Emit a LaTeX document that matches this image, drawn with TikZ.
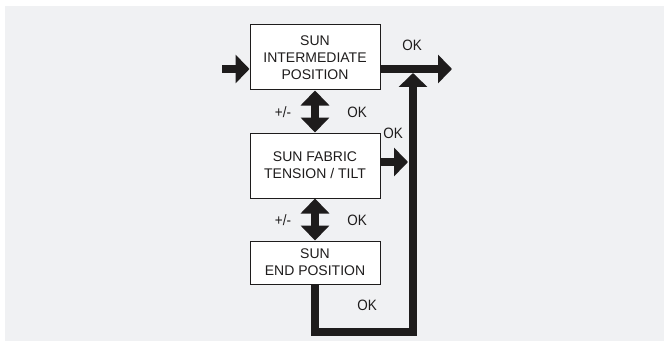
\documentclass[tikz,border=0pt]{standalone}
\usepackage{fontspec}
\setmainfont{Liberation Sans}
\newfontfamily\tagfont[FakeStretch=0.9]{Liberation Sans}
\usetikzlibrary{arrows.meta}
\definecolor{bggray}{HTML}{F0F1F3}
\definecolor{ink}{HTML}{1E1C1C}
\begin{document}
\begin{tikzpicture}[x=1pt, y=-1pt,
	box/.style={shape=rectangle, draw=ink, line width=1pt, fill=white, text=ink, inner sep=0pt,
		minimum width=130pt, align=center, font=\fontsize{14}{17}\selectfont},
	flow/.style={draw=ink, line width=8pt, -{Triangle[width=28pt,length=14pt]}},
	both/.style={draw=ink, line width=8pt, {Triangle[width=28pt,length=15pt]}-{Triangle[width=28pt,length=15pt]}},
	tag/.style={text=ink, inner sep=0pt, font=\tagfont\fontsize{15}{17}\selectfont}]
	% background
	\fill[white]  (0,0) rectangle (668,350);
	\fill[bggray] (5,6) rectangle (664,341);

	\node[box, minimum height=65pt] (inter) at (315,57.5)  {SUN\\INTERMEDIATE\\POSITION};
	\node[box, minimum height=65pt] (tilt)  at (315,165.5) {SUN FABRIC\\TENSION / TILT};
	\node[box, minimum height=43pt] (end)   at (315,262.5) {SUN\\END POSITION};

	\coordinate (in)    at (222,69);
	\coordinate (out)   at (452,69);
	\coordinate (join)  at (413,73);
	\coordinate (side)  at (408,162);
	\coordinate (floor) at (413,332);

	\draw [flow] (in) -- (in -| inter.west);
	\draw [flow] (out -| inter.east) -- (out);
	\draw [flow] (side -| tilt.east) -- (side);
	\draw [both] (inter) -- (tilt);
	\draw [both] (tilt) -- (end);
	\draw [flow] (end.south) |- (floor) -- (join);

	\node[tag] (ok1) at (412,45.5) {OK};
	\node[tag] (pm1) at (283,112)  {+/-};
	\node[tag] (ok2) at (357,112)  {OK};
	\node[tag] (ok3) at (393,133)  {OK};
	\node[tag] (pm2) at (283,220)  {+/-};
	\node[tag] (ok4) at (357,220)  {OK};
	\node[tag] (ok5) at (367,305)  {OK};
\end{tikzpicture}
\end{document}
